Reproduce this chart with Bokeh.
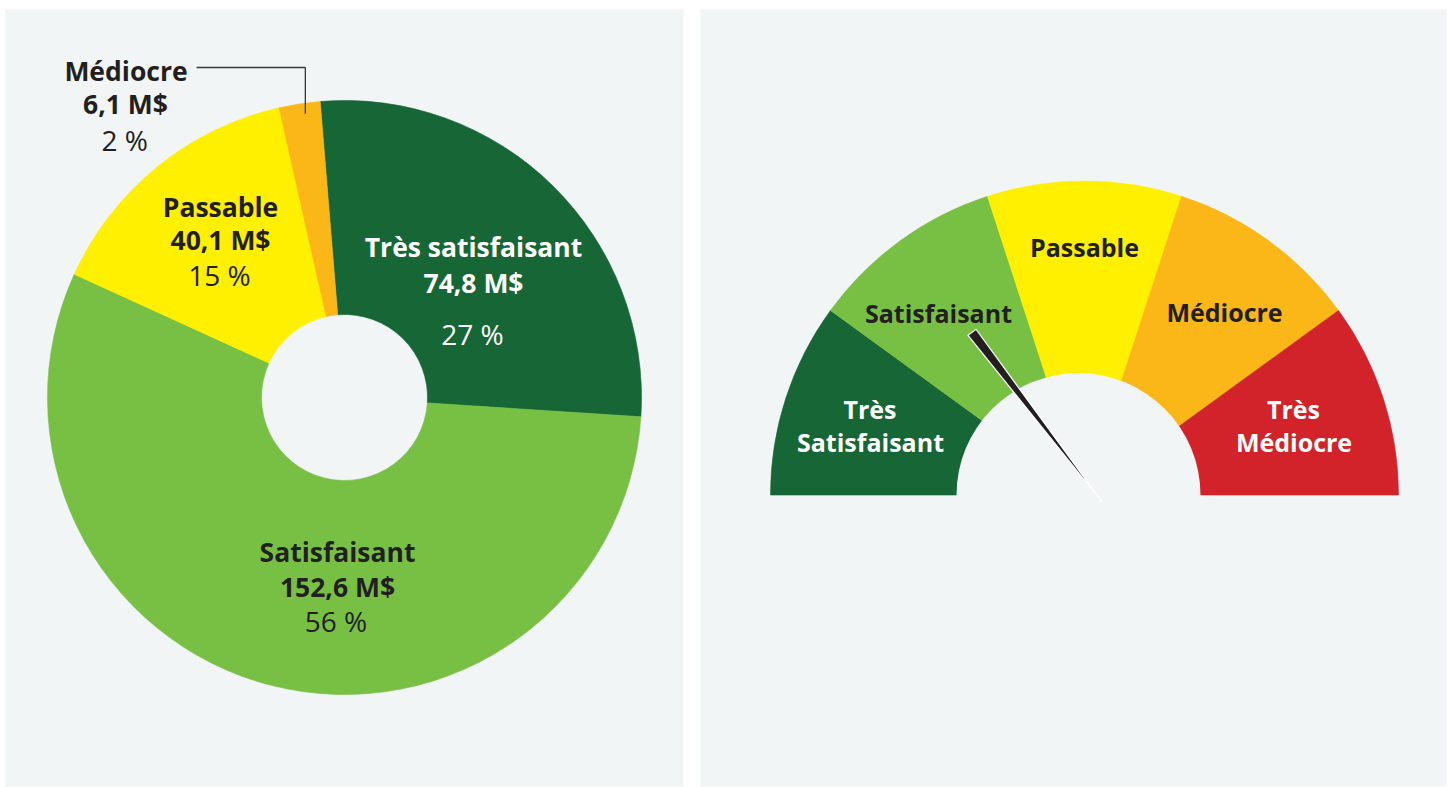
import math
from bokeh.plotting import figure
from bokeh.models import Range1d, ColumnDataSource
from bokeh.core.properties import value
from bokeh.embed import file_html
from bokeh.resources import INLINE

# ---------------- data ----------------
categories = ["Très satisfaisant", "Satisfaisant", "Passable", "Médiocre"]
amounts = [74.8, 152.6, 40.1, 6.1]
amount_labels = ["74,8 M$", "152,6 M$", "40,1 M$", "6,1 M$"]
pct_labels = ["27 %", "56 %", "15 %", "2 %"]

gauge_levels = ["Très Satisfaisant", "Satisfaisant", "Passable", "Médiocre", "Très Médiocre"]
needle_value = 1.46  # position on the 5-level scale (0 = far left, 5 = far right)

# ---------------- styles ----------------
DARK_GREEN = "#176635"
LIGHT_GREEN = "#78c044"
YELLOW = "#fff000"
ORANGE = "#fbb717"
RED = "#d2232b"
PANEL = "#f1f5f6"
INK = "#231f20"
FONT = value("Open Sans")
TEXT_DY = -10.5  # baseline correction for the renderer

slice_colors = [DARK_GREEN, LIGHT_GREEN, YELLOW, ORANGE]
slice_text_colors = ["white", INK, INK, INK]
gauge_colors = [DARK_GREEN, LIGHT_GREEN, YELLOW, ORANGE, RED]

W, H = 1450, 787
p = figure(width=W, height=H, output_backend="svg", toolbar_location=None,
           x_range=Range1d(0, W), y_range=Range1d(-H, 0),
           min_border=0, background_fill_color="white", border_fill_color="white")
p.axis.visible = False
p.grid.visible = False
p.outline_line_color = None

# panels (screen coordinates, y downward -> negate)
p.quad(left=[5, 700], right=[683, 1446], top=[-9, -9], bottom=[-786, -786],
       fill_color=PANEL, line_color=None)

# ---------------- donut ----------------
cx, cy = 344, -397
R_OUT, R_IN = 297, 83
start_cw = -4.7  # degrees clockwise from 12 o'clock
total = sum(amounts)
starts, ends, mids = [], [], []
acc = 0.0
for a in amounts:
    cw0 = start_cw + acc / total * 360
    cw1 = start_cw + (acc + a) / total * 360
    acc += a
    starts.append(math.radians(90 - cw1))
    ends.append(math.radians(90 - cw0))
    mids.append((cw0 + cw1) / 2)

src = ColumnDataSource(dict(start=starts, end=ends, color=slice_colors, cat=categories))
p.annular_wedge(x=cx, y=cy, inner_radius=R_IN, outer_radius=R_OUT,
                start_angle="start", end_angle="end", fill_color="color",
                line_color="color", line_width=0.6, source=src)

# labels (center x, baseline y) per slice, three lines
label_pos = [
    [(473, 256.7), (473, 293), (472, 344)],
    [(337, 562.3), (337, 596.7), (335.5, 631)],
    [(220, 216.7), (220, 250), (219, 285)],
    [(125.5, 80.7), (125, 114), (124.3, 150)],
]
for i in range(len(categories)):
    texts = [categories[i], amount_labels[i], pct_labels[i]]
    for j, t in enumerate(texts):
        x, y = label_pos[i][j]
        p.text(x=[x], y=[-(y + TEXT_DY)], text=[t], text_align="center",
               text_baseline="alphabetic",
               text_font=FONT, text_font_style="bold" if j < 2 else "normal",
               text_font_size="26.5px" if j < 2 else "28px",
               text_color=slice_text_colors[i])

# leader line for the small slice
m = mids[3]
lx = cx + (R_OUT - 12) * math.sin(math.radians(m)) + 4
ly = cy + (R_OUT - 12) * math.cos(math.radians(m)) + 2
p.line(x=[196, lx, lx], y=[-67, -67, ly], line_color="#3a3a3a", line_width=1.3)

# ---------------- gauge ----------------
gx, gy = 1084, -494.5
G_OUT = 314
n = len(gauge_levels)
step = math.pi / n
gsrc = ColumnDataSource(dict(
    start=[math.pi - (k + 1) * step for k in range(n)],
    end=[math.pi - k * step for k in range(n)],
    color=gauge_colors, level=gauge_levels))
p.wedge(x=gx, y=gy, radius=G_OUT, start_angle="start", end_angle="end",
        fill_color="color", line_color="color", line_width=0.6, source=gsrc)
# inner hole
p.circle(x=1078, y=gy, radius=122, fill_color=PANEL, line_color=None)

gauge_text_colors = ["white", INK, INK, INK, "white"]
gauge_label_pos = [
    [(869.5, 419.3), (870, 451.7)],
    [(938, 323)],
    [(1084, 256.7)],
    [(1224, 321.5)],
    [(1293, 419.3), (1293.5, 451.5)],
]
for k, lvl in enumerate(gauge_levels):
    words = lvl.split(" ", 1) if len(gauge_label_pos[k]) == 2 else [lvl]
    for w, (x, y) in zip(words, gauge_label_pos[k]):
        p.text(x=[x], y=[-(y + TEXT_DY)], text=[w], text_align="center",
               text_baseline="alphabetic",
               text_font=FONT, text_font_style="bold", text_font_size="25px",
               text_color=gauge_text_colors[k])

# needle
theta = math.pi - needle_value * step
bx, by = 1101.6, -501.7
L, hw = 214, 5.0
tx, ty = bx + L * math.cos(theta), by + L * math.sin(theta)
px_, py_ = -math.sin(theta), math.cos(theta)
p.patch(x=[bx, tx + hw * px_, tx - hw * px_], y=[by, ty + hw * py_, ty - hw * py_],
        fill_color=INK, line_color="white", line_width=1.2, line_join="miter")

open("out.html", "w").write(file_html(p, INLINE))
